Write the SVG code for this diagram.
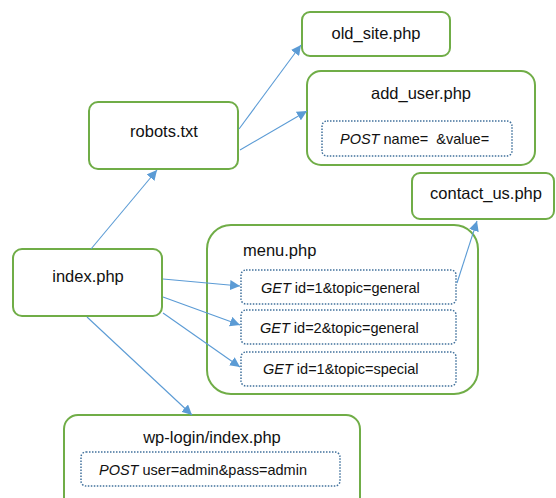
<svg xmlns="http://www.w3.org/2000/svg" width="556" height="498" viewBox="0 0 556 498">
<style>
.node{fill:#fff;stroke:#70AD47;stroke-width:2}
.sub{fill:none;stroke:#41719C;stroke-width:1.5;stroke-dasharray:1.5 1.5}
.t{font-family:"Liberation Sans",Arial,sans-serif;font-size:16.5px;fill:#111}
.s{font-family:"Liberation Sans",Arial,sans-serif;font-size:14.5px;fill:#111}
.i{font-style:italic}
.c{fill:none;stroke:#5B9BD5;stroke-width:1.1}
</style>
<defs>
<marker id="a" viewBox="0 0 10 10" refX="10" refY="5" markerWidth="10" markerHeight="10" markerUnits="userSpaceOnUse" orient="auto">
<path d="M0,0 L10,5 L0,10 z" fill="#5B9BD5"/>
</marker>
</defs>
<rect width="556" height="498" fill="#fff"/>
<g id="old_site">
<rect class="node" x="302" y="12" width="148" height="44" rx="8"/>
<text class="t" x="376" y="39" text-anchor="middle">old_site.php</text>
</g>
<g id="add_user">
<rect class="node" x="307" y="71" width="228" height="94" rx="14"/>
<text class="t" x="421" y="99" text-anchor="middle">add_user.php</text>
<rect class="sub" x="322" y="121" width="190" height="35" rx="5"/>
<text class="s" x="340" y="144" xml:space="preserve"><tspan class="i">POST</tspan> name=  &amp;value=</text>
</g>
<g id="robots">
<rect class="node" x="89" y="102" width="149" height="67" rx="9"/>
<text class="t" x="164" y="137" text-anchor="middle">robots.txt</text>
</g>
<g id="contact_us">
<rect class="node" x="412" y="173" width="142" height="46" rx="8"/>
<text class="t" x="486" y="199" text-anchor="middle">contact_us.php</text>
</g>
<g id="menu">
<rect class="node" x="207" y="225" width="271" height="169" rx="24"/>
<text class="t" x="243" y="256">menu.php</text>
<rect class="sub" x="241" y="270" width="215" height="34" rx="5"/>
<text class="s" x="261" y="293"><tspan class="i">GET</tspan> id=1&amp;topic=general</text>
<rect class="sub" x="241" y="310" width="215" height="34" rx="5"/>
<text class="s" x="260" y="333"><tspan class="i">GET</tspan> id=2&amp;topic=general</text>
<rect class="sub" x="241" y="352" width="215" height="34" rx="5"/>
<text class="s" x="263" y="374"><tspan class="i">GET</tspan> id=1&amp;topic=special</text>
</g>
<g id="index">
<rect class="node" x="13" y="249" width="149" height="67" rx="9"/>
<text class="t" x="88" y="282" text-anchor="middle">index.php</text>
</g>
<g id="wp_login">
<rect class="node" x="64" y="415" width="296" height="100" rx="14"/>
<text class="t" x="212" y="443" text-anchor="middle">wp-login/index.php</text>
<rect class="sub" x="81" y="452" width="259" height="34" rx="5"/>
<text class="s" x="99" y="475"><tspan class="i">POST</tspan> user=admin&amp;pass=admin</text>
</g>
<g id="connectors">
<line class="c" x1="91" y1="249" x2="157" y2="170" marker-end="url(#a)"/>
<line class="c" x1="239" y1="129" x2="301" y2="45" marker-end="url(#a)"/>
<line class="c" x1="240" y1="150" x2="307" y2="111" marker-end="url(#a)"/>
<line class="c" x1="163" y1="279" x2="240" y2="286" marker-end="url(#a)"/>
<line class="c" x1="163" y1="297" x2="240" y2="325" marker-end="url(#a)"/>
<line class="c" x1="163" y1="313" x2="240" y2="367" marker-end="url(#a)"/>
<line class="c" x1="87" y1="317" x2="192" y2="415" marker-end="url(#a)"/>
<line class="c" x1="457" y1="283" x2="477" y2="221" marker-end="url(#a)"/>
</g>
</svg>
